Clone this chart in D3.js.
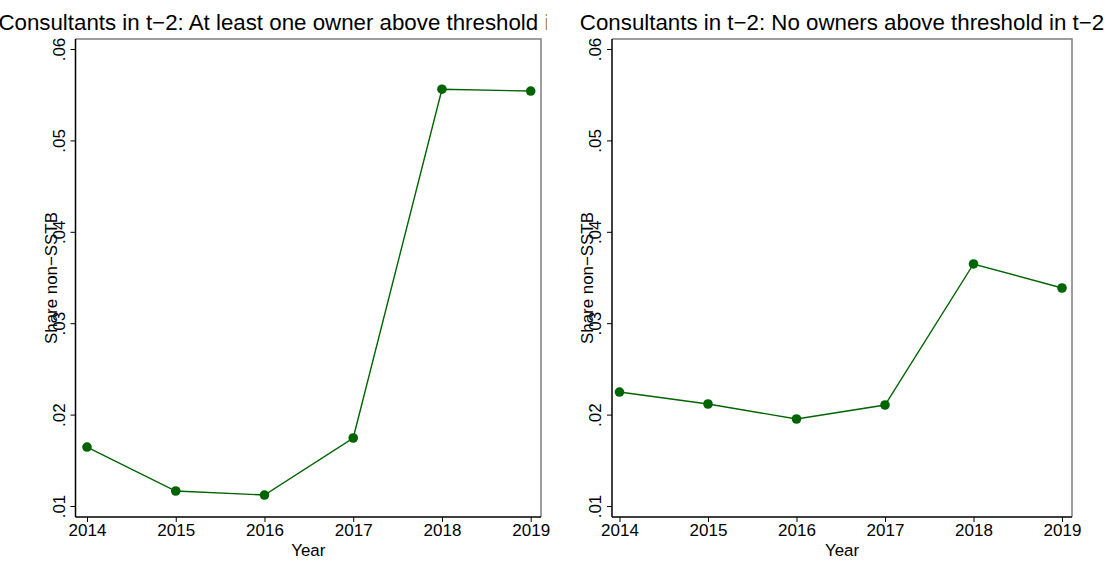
<!DOCTYPE html>
<html>
<head>
<meta charset="utf-8">
<script src="https://cdn.jsdelivr.net/npm/d3@7"></script>
<style>
  html, body { margin: 0; padding: 0; background: #fff; }
  svg { display: block; font-family: "Liberation Sans", Arial, Helvetica, sans-serif; }
</style>
</head>
<body>
<svg id="chart" width="1112" height="561"></svg>
<script>
// Share of non-SSTB firms by year, split by owner status of consultants in t-2
const years = [2014, 2015, 2016, 2017, 2018, 2019];
const shareAboveThreshold = [0.01645, 0.01164, 0.0112, 0.01744, 0.0556, 0.0554];
const shareNoOwnersAbove = [0.02247, 0.02116, 0.01952, 0.02105, 0.03648, 0.03385];
const yTicks = [0.01, 0.02, 0.03, 0.04, 0.05, 0.06];
const titles = [
  "Consultants in t\u22122: At least one owner above threshold in t\u22122",
  "Consultants in t\u22122: No owners above threshold in t\u22122"
];
const yTitle = "Share non\u2212SSTB";
const xTitle = "Year";

const green = "#006400";
const svg = d3.select("#chart");

const panels = [
  { values: shareAboveThreshold, title: titles[0], left: 75.5, right: 541, x0: 87, x1: 530.7, titleX: 299, clip: [0, 546.5] },
  { values: shareNoOwnersAbove, title: titles[1], left: 612, right: 1072, x0: 619.5, x1: 1062, titleX: 842, clip: [556, 1112] }
];
const plotTop = 39, plotBottom = 517;

panels.forEach((p, i) => {
  const x = d3.scaleLinear().domain([2014, 2019]).range([p.x0, p.x1]);
  const y = d3.scaleLinear().domain([0.01, 0.06]).range([506, 49]);
  const g = svg.append("g");

  // title, clipped to its half of the figure
  const clipId = "clip" + i;
  svg.append("clipPath").attr("id", clipId)
    .append("rect").attr("x", p.clip[0]).attr("y", 0)
    .attr("width", p.clip[1] - p.clip[0]).attr("height", 40);
  g.append("text")
    .attr("clip-path", `url(#${clipId})`)
    .attr("x", p.titleX).attr("y", 30)
    .attr("text-anchor", "middle")
    .attr("font-size", 22.3).attr("fill", "#000")
    .text(p.title);

  // plot frame: top and right borders in grey
  g.append("path")
    .attr("d", `M${p.left},${plotTop}H${p.right}V${plotBottom}`)
    .attr("fill", "none").attr("stroke", "#7f7f7f").attr("stroke-width", 1.5);

  // y axis
  const yAxis = d3.axisLeft(y).tickValues(yTicks).tickSize(5)
    .tickFormat(d => d3.format(".2f")(d).replace(/^0/, ""));
  const ya = g.append("g").attr("transform", `translate(${p.left},0)`).call(yAxis);
  ya.select(".domain").attr("d", `M0,${plotTop}V${plotBottom}`).attr("stroke", "#000").attr("stroke-width", 1.5);
  ya.selectAll(".tick line").attr("stroke", "#000").attr("stroke-width", 1);
  ya.selectAll(".tick text")
    .attr("font-size", 17).attr("fill", "#000")
    .attr("x", null).attr("dy", null)
    .attr("text-anchor", "middle")
    .attr("transform", "translate(-11,0) rotate(-90)");

  // x axis
  const xAxis = d3.axisBottom(x).tickValues(years).tickSize(5).tickFormat(d3.format("d"));
  const xa = g.append("g").attr("transform", `translate(0,${plotBottom})`).call(xAxis);
  xa.select(".domain").attr("d", `M${p.left},0H${p.right}`).attr("stroke", "#000").attr("stroke-width", 1.5);
  xa.selectAll(".tick line").attr("stroke", "#000").attr("stroke-width", 1);
  xa.selectAll(".tick text").attr("font-size", 17).attr("fill", "#000").attr("y", 7).attr("dy", "0.71em");

  // axis titles
  g.append("text")
    .attr("transform", `translate(${p.left - 19},${(plotTop + plotBottom) / 2}) rotate(-90)`)
    .attr("text-anchor", "middle").attr("font-size", 16.9).attr("fill", "#000")
    .text(yTitle);
  g.append("text")
    .attr("x", (p.left + p.right) / 2).attr("y", 556)
    .attr("text-anchor", "middle").attr("font-size", 16.9).attr("fill", "#000")
    .text(xTitle);

  // series
  const pts = years.map((yr, k) => [yr, p.values[k]]);
  g.append("path")
    .datum(pts)
    .attr("fill", "none").attr("stroke", green).attr("stroke-width", 1.4)
    .attr("d", d3.line().x(d => x(d[0])).y(d => y(d[1])));
  g.selectAll("circle.pt").data(pts).join("circle")
    .attr("class", "pt")
    .attr("cx", d => x(d[0])).attr("cy", d => y(d[1]))
    .attr("r", 4.8).attr("fill", green);
});
</script>
</body>
</html>
